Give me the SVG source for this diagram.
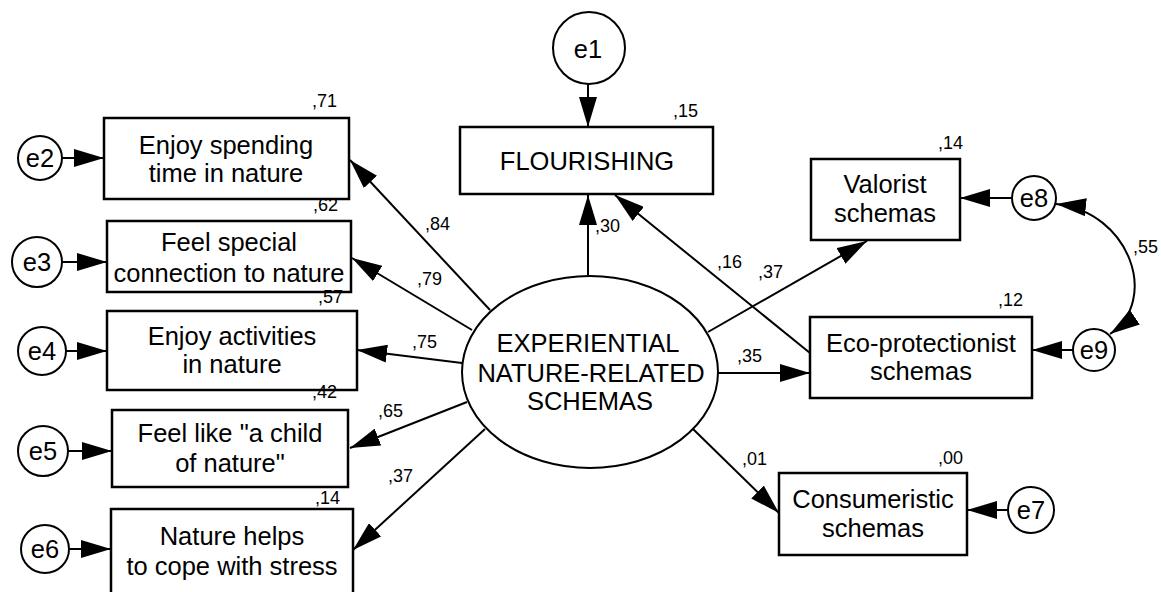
<svg xmlns="http://www.w3.org/2000/svg" width="1161" height="592" viewBox="0 0 1161 592">
<defs>
<marker id="arr" markerUnits="userSpaceOnUse" markerWidth="30" markerHeight="18" refX="30" refY="9" orient="auto-start-reverse" viewBox="0 0 30 18">
<path d="M0,0 L30,9 L0,18 Z" fill="#000"/>
</marker>
<style>
.box{fill:#fff;stroke:#000;stroke-width:2.5}
.err{fill:#fff;stroke:#000;stroke-width:2}
.lat{fill:#fff;stroke:#000;stroke-width:2}
.t{font-family:"Liberation Sans",Arial,sans-serif;font-size:25.5px;fill:#000;text-anchor:middle}
.s{font-family:"Liberation Sans",Arial,sans-serif;font-size:18px;fill:#000}
.c line,.c path{stroke:#000;stroke-width:2;fill:none;marker-end:url(#arr)}
</style>
</defs>
<rect width="1161" height="592" fill="#fff"/>

<g class="c" id="connectors">
<line x1="490" y1="310" x2="350" y2="160"/>
<line x1="472" y1="330" x2="352" y2="258"/>
<line x1="462" y1="363" x2="357" y2="350"/>
<line x1="467" y1="402" x2="350" y2="448"/>
<line x1="485" y1="429" x2="353" y2="550"/>
<line x1="588" y1="275" x2="588" y2="195"/>
<line x1="810" y1="353" x2="615" y2="195"/>
<line x1="708" y1="332" x2="867" y2="241"/>
<line x1="718" y1="373" x2="810" y2="373"/>
<line x1="693" y1="429" x2="779" y2="513"/>
<line x1="588" y1="84" x2="588" y2="127"/>
<line x1="62" y1="158" x2="104" y2="158"/>
<line x1="62" y1="262" x2="107" y2="262"/>
<line x1="66" y1="351" x2="107" y2="351"/>
<line x1="68" y1="451" x2="112" y2="451"/>
<line x1="68" y1="549" x2="111" y2="549"/>
<line x1="1012" y1="198" x2="960" y2="198"/>
<line x1="1073" y1="350" x2="1032" y2="350"/>
<line x1="1008" y1="510" x2="967" y2="510"/>
<path d="M1056,204 C1130,212 1160,300 1110,334" style="marker-start:url(#arr)"/>
</g>

<g id="latent">
<ellipse class="lat" cx="590" cy="372" rx="128" ry="96"/>
<text class="t" x="588" y="352">EXPERIENTIAL</text>
<text class="t" x="591" y="382">NATURE-RELATED</text>
<text class="t" x="590" y="410">SCHEMAS</text>
</g>

<g id="flourishing">
<rect class="box" x="460" y="127" width="253" height="67"/>
<text class="t" x="587" y="170">FLOURISHING</text>
<text class="s" x="673" y="117">,15</text>
</g>
<g id="e1"><circle class="err" cx="589" cy="48" r="36"/><text class="t" x="588" y="58">e1</text></g>

<g id="box1">
<rect class="box" x="104" y="118" width="245" height="81"/>
<text class="t" x="226" y="154">Enjoy spending</text>
<text class="t" x="226" y="182">time in nature</text>
<text class="s" x="312" y="107">,71</text>
</g>
<g id="e2"><circle class="err" cx="40" cy="158" r="22"/><text class="t" x="40" y="167">e2</text></g>

<g id="box2">
<rect class="box" x="107" y="221" width="244" height="71"/>
<text class="t" x="229" y="251">Feel special</text>
<text class="t" x="229" y="282">connection to nature</text>
<text class="s" x="313" y="211">,62</text>
</g>
<g id="e3"><circle class="err" cx="37" cy="262" r="25"/><text class="t" x="37" y="271">e3</text></g>

<g id="box3">
<rect class="box" x="107" y="311" width="250" height="79"/>
<text class="t" x="232" y="345">Enjoy activities</text>
<text class="t" x="232" y="373">in nature</text>
<text class="s" x="318" y="303">,57</text>
</g>
<g id="e4"><circle class="err" cx="42" cy="351" r="24"/><text class="t" x="42" y="360">e4</text></g>

<g id="box4">
<rect class="box" x="112" y="410" width="236" height="77"/>
<text class="t" x="230" y="442">Feel like "a child</text>
<text class="t" x="230" y="472">of nature"</text>
<text class="s" x="312" y="398">,42</text>
</g>
<g id="e5"><circle class="err" cx="43" cy="451" r="25"/><text class="t" x="43" y="460">e5</text></g>

<g id="box5">
<rect class="box" x="111" y="509" width="242" height="95"/>
<text class="t" x="232" y="545">Nature helps</text>
<text class="t" x="232" y="575">to cope with stress</text>
<text class="s" x="315" y="504">,14</text>
</g>
<g id="e6"><circle class="err" cx="45" cy="549" r="24"/><text class="t" x="45" y="558">e6</text></g>

<g id="valorist">
<rect class="box" x="811" y="159" width="149" height="81"/>
<text class="t" x="885" y="193">Valorist</text>
<text class="t" x="885" y="222">schemas</text>
<text class="s" x="938" y="149">,14</text>
</g>
<g id="e8"><circle class="err" cx="1034" cy="198" r="22"/><text class="t" x="1034" y="207">e8</text></g>

<g id="eco">
<rect class="box" x="810" y="317" width="222" height="81"/>
<text class="t" x="921" y="352">Eco-protectionist</text>
<text class="t" x="921" y="380">schemas</text>
<text class="s" x="998" y="306">,12</text>
</g>
<g id="e9"><circle class="err" cx="1094" cy="350" r="21"/><text class="t" x="1094" y="359">e9</text></g>

<g id="consumeristic">
<rect class="box" x="779" y="473" width="188" height="82"/>
<text class="t" x="873" y="508">Consumeristic</text>
<text class="t" x="873" y="537">schemas</text>
<text class="s" x="938" y="464">,00</text>
</g>
<g id="e7"><circle class="err" cx="1031" cy="510" r="23"/><text class="t" x="1031" y="519">e7</text></g>

<g id="coefficients">
<text class="s" x="425" y="230">,84</text>
<text class="s" x="417" y="285">,79</text>
<text class="s" x="412" y="348">,75</text>
<text class="s" x="378" y="417">,65</text>
<text class="s" x="388" y="482">,37</text>
<text class="s" x="595" y="232">,30</text>
<text class="s" x="717" y="268">,16</text>
<text class="s" x="758" y="278">,37</text>
<text class="s" x="737" y="362">,35</text>
<text class="s" x="742" y="465">,01</text>
<text class="s" x="1133" y="253">,55</text>
</g>
</svg>
